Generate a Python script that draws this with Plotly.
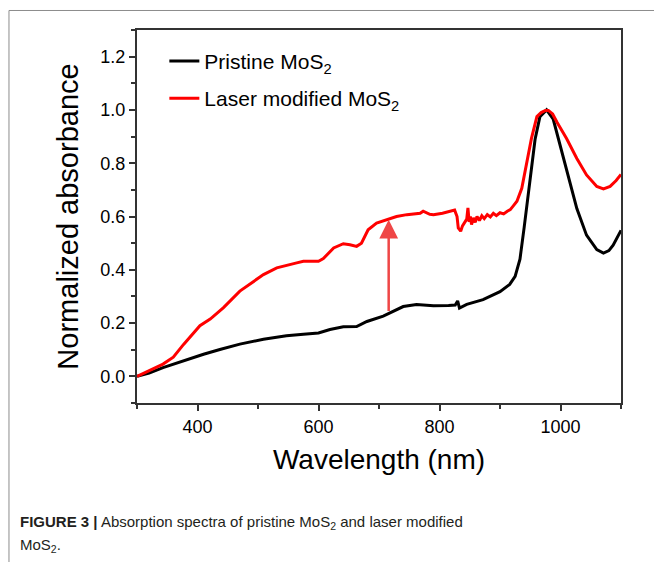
import plotly.graph_objects as go

# ---- data ----
pristine_nm = [300, 320, 343, 371, 390, 410, 437, 470, 509, 547, 575, 600, 619, 641, 663, 680,
               707, 724, 740, 762, 790, 815, 826, 830, 833, 845, 872, 900, 916, 925, 933, 940,
               950, 958, 966, 977, 988, 999, 1010, 1027, 1043, 1060, 1071, 1080, 1087, 1100]
pristine_abs = [0.0, 0.012, 0.033, 0.054, 0.07, 0.083, 0.101, 0.121, 0.139, 0.152, 0.158, 0.163,
                0.176, 0.186, 0.187, 0.206, 0.226, 0.243, 0.262, 0.27, 0.265, 0.266, 0.268, 0.283,
                0.256, 0.27, 0.288, 0.318, 0.345, 0.375, 0.44, 0.56, 0.74, 0.89, 0.975, 1.0, 0.965,
                0.87, 0.77, 0.63, 0.53, 0.476, 0.463, 0.472, 0.492, 0.548]

laser_nm = [300, 320, 343, 360, 377, 404, 421, 443, 470, 509, 531, 564, 575, 600, 608, 625, 641,
            652, 663, 671, 682, 696, 713, 729, 746, 768, 773, 784, 790, 805, 825, 829, 831, 835,
            838, 842, 845, 847, 849, 851, 853, 856, 859, 862, 866, 870, 874, 879, 884, 889, 894,
            900, 906, 912, 917, 922, 928, 936, 944, 952, 961, 968, 975, 980, 987, 994, 1010, 1027,
            1043, 1060, 1071, 1082, 1092, 1100]
laser_abs = [0.0, 0.02, 0.046, 0.072, 0.12, 0.19, 0.215, 0.258, 0.32, 0.382, 0.407, 0.426, 0.432,
             0.432, 0.442, 0.482, 0.498, 0.494, 0.488, 0.5, 0.55, 0.575, 0.588, 0.6, 0.607, 0.612,
             0.62, 0.608, 0.607, 0.612, 0.624, 0.6, 0.557, 0.545, 0.565, 0.58, 0.59, 0.632, 0.58,
             0.6, 0.57, 0.595, 0.578, 0.6, 0.585, 0.603, 0.592, 0.607, 0.598, 0.612, 0.603, 0.614,
             0.61, 0.62, 0.626, 0.64, 0.657, 0.706, 0.793, 0.893, 0.975, 0.99, 0.998, 0.998, 0.985,
             0.955, 0.893, 0.818, 0.756, 0.713, 0.704, 0.713, 0.735, 0.758]

arrow_nm = 716
arrow_from = 0.24
arrow_to = 0.588

x_ticks = [400, 600, 800, 1000]
y_ticks = [0.0, 0.2, 0.4, 0.6, 0.8, 1.0, 1.2]
y_tick_labels = ["0.0", "0.2", "0.4", "0.6", "0.8", "1.0", "1.2"]

caption_line1 = "<b>FIGURE 3 |</b> Absorption spectra of pristine MoS<sub>2</sub> and laser modified"
caption_line2 = "MoS<sub>2</sub>."

FONT = "Liberation Sans, Arial, Helvetica, sans-serif"

fig = go.Figure()
fig.add_trace(go.Scatter(x=pristine_nm, y=pristine_abs, mode="lines",
                         name="Pristine MoS<sub>2</sub>", legendgroup="a",
                         line=dict(color="black", width=3)))
fig.add_trace(go.Scatter(x=laser_nm, y=laser_abs, mode="lines",
                         name="Laser modified MoS<sub>2</sub>", legendgroup="b",
                         line=dict(color="#ff0000", width=3)))

fig.add_annotation(x=arrow_nm, y=arrow_to, ax=arrow_nm, ay=arrow_from, axref="x", ayref="y",
                   xref="x", yref="y", text="", showarrow=True, arrowhead=2, arrowsize=1.5,
                   arrowwidth=2.5, arrowcolor="rgba(238,50,50,0.9)")

# caption (two lines)
fig.add_annotation(xref="paper", yref="paper", x=-0.245, y=-0.3195, xanchor="left", yanchor="middle",
                   align="left", showarrow=False, text=caption_line1,
                   font=dict(family=FONT, size=15, color="#231f20"))
fig.add_annotation(xref="paper", yref="paper", x=-0.245, y=-0.3815, xanchor="left", yanchor="middle",
                   align="left", showarrow=False, text=caption_line2,
                   font=dict(family=FONT, size=15, color="#231f20"))

# outer figure frame (top and left edges)
fig.add_shape(type="line", xref="paper", yref="paper", x0=-0.2645, x1=1.07, y0=1.0523, y1=1.0523,
              line=dict(color="#8c8c8c", width=1))
fig.add_shape(type="line", xref="paper", yref="paper", x0=-0.2645, x1=-0.2645, y0=1.0523, y1=-0.43,
              line=dict(color="#8c8c8c", width=1))

fig.update_layout(
    width=654, height=562,
    margin=dict(l=137, r=33, t=30, b=159),
    paper_bgcolor="white", plot_bgcolor="white",
    font=dict(family=FONT, color="black"),
    showlegend=True,
    legend=dict(x=0.0565, y=0.971, xanchor="left", yanchor="top", bgcolor="rgba(0,0,0,0)",
                font=dict(size=21, family=FONT, color="black"), tracegroupgap=7,
                traceorder="grouped"),
)
fig.update_xaxes(range=[300, 1100], tickvals=x_ticks, ticks="outside", ticklen=6, tickwidth=2,
                 tickcolor="#333", showline=True, linecolor="#333", linewidth=2, mirror=True,
                 showgrid=False, zeroline=False, tickfont=dict(size=18, family=FONT),
                 minor=dict(dtick=100, tick0=300, ticks="outside", ticklen=4, tickwidth=2, tickcolor="#333"),
                 title=dict(text="Wavelength (nm)", font=dict(size=28, family=FONT), standoff=14))
fig.update_yaxes(range=[-0.1, 1.3], tickvals=y_ticks, ticktext=y_tick_labels, ticks="outside",
                 ticklen=6, tickwidth=2, tickcolor="#333", showline=True, linecolor="#333",
                 linewidth=2, mirror=True, showgrid=False, zeroline=False,
                 tickfont=dict(size=18, family=FONT),
                 minor=dict(dtick=0.1, tick0=-0.1, ticks="outside", ticklen=4, tickwidth=2, tickcolor="#333"),
                 title=dict(text="Normalized absorbance", font=dict(size=29, family=FONT), standoff=13))

fig.write_html("out.html", config={"displayModeBar": False},
               post_script="document.body.style.margin='0px';")
